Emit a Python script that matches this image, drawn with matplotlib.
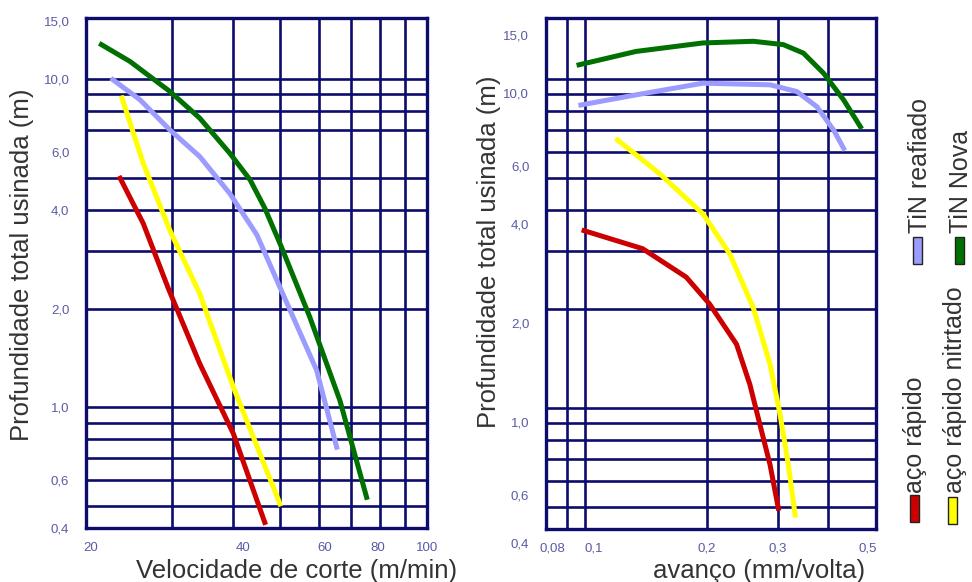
import numpy as np
import matplotlib
matplotlib.use('Agg')
import matplotlib.pyplot as plt
from matplotlib.patches import Rectangle
from matplotlib.transforms import ScaledTranslation

plt.rcParams['font.family'] = ['Liberation Sans', 'DejaVu Sans']

# Vida da ferramenta x velocidade de corte (m/min)
vel_aco = [23.5, 26.2, 29.5, 34.2, 40.1, 46.5]
prof_vel_aco = [4.98, 3.63, 2.30, 1.36, 0.832, 0.447]
vel_nitr = [23.7, 26.2, 29.7, 34.2, 40.1, 49.96]
prof_vel_nitr = [8.74, 5.53, 3.46, 2.22, 1.153, 0.509]
vel_reaf = [22.7, 25.8, 29.7, 34.2, 39.4, 44.8, 51.1, 59.4, 65.3]
prof_vel_reaf = [9.93, 8.63, 6.99, 5.80, 4.48, 3.35, 2.15, 1.297, 0.757]
vel_nova = [21.5, 24.6, 29.7, 34.2, 39.4, 43.4, 46.5, 50.2, 57.5, 66.3, 75.2]
prof_vel_nova = [12.7, 11.29, 9.15, 7.59, 5.94, 4.92, 4.04, 3.1, 1.885, 1.05, 0.533]

# Vida da ferramenta x avanco (mm/volta)
av_aco = [0.0994, 0.1388, 0.178, 0.2034, 0.2371, 0.2558, 0.2709, 0.287, 0.3009]
prof_av_aco = [3.46, 3.05, 2.50, 2.07, 1.564, 1.181, 0.892, 0.674, 0.497]
av_nitr = [0.1203, 0.1528, 0.1958, 0.2281, 0.2608, 0.287, 0.3039, 0.3186, 0.3311]
prof_av_nitr = [6.52, 5.16, 3.89, 2.94, 2.02, 1.36, 0.957, 0.674, 0.474]
av_reaf = [0.0976, 0.1337, 0.1958, 0.287, 0.3343, 0.3748, 0.4124, 0.4366]
prof_av_reaf = [8.33, 8.94, 9.70, 9.59, 9.15, 8.23, 6.99, 6.15]
av_nova = [0.0966, 0.1337, 0.1958, 0.2608, 0.3096, 0.3471, 0.3894, 0.4366, 0.4805]
prof_av_nova = [11.03, 12.11, 12.85, 13.0, 12.7, 11.97, 10.4, 8.63, 7.15]

# grade e rotulos
y_ticks = [0.43, 0.6, 1, 2, 4, 6, 10, 15]
y_labels = ['0,4', '0,6', '1,0', '2,0', '4,0', '6,0', '10,0', '15,0']
grid_y_vel = [0.5, 0.6, 0.7, 0.8, 0.9, 1, 2, 3, 4, 5, 7, 8, 9, 10]
grid_y_av = [0.5, 0.6, 0.7, 0.8, 0.9, 1, 2, 3, 4, 5, 6, 7, 8, 9, 10]
grid_x_vel = [30, 40, 50, 60, 70, 80, 90]
grid_x_av = [0.09, 0.1, 0.2, 0.3, 0.4]
x_ticks_vel = [20.4, 42, 61.7, 79.3, 100]
x_labels_vel = ['20', '40', '60', '80', '100']
x_ticks_av = [0.083, 0.105, 0.2, 0.3, 0.5]
x_labels_av = ['0,08', '0,1', '0,2', '0,3', '0,5']

navy = '#0c0c6c'
tick_color = '#5a5aa6'
text_color = '#333333'
cores = {'aco': '#cc0000', 'nitr': '#ffff00', 'reaf': '#9c9cff', 'nova': '#007000'}
linha = dict(lw=3.6, zorder=3, solid_joinstyle='round')

fig = plt.figure(figsize=(9.72, 5.82), dpi=100)
ax1 = fig.add_axes([0.0885, 0.0928, 0.3508, 0.8763])
ax2 = fig.add_axes([0.5617, 0.0911, 0.3395, 0.878])


def estilo(ax, gx, gy, xt, xl):
    ax.set_xscale('log')
    ax.set_yscale('log')
    ax.set_ylim(0.43, 15.3)
    for v in gx:
        ax.axvline(v, color=navy, lw=1.9, zorder=1)
    for v in gy:
        ax.axhline(v, color=navy, lw=1.9, zorder=1)
    for s in ax.spines.values():
        s.set_color(navy)
        s.set_linewidth(2.4)
    ax.minorticks_off()
    ax.set_yticks(y_ticks)
    ax.set_yticklabels(y_labels)
    ax.set_xticks(xt)
    ax.set_xticklabels(xl)
    ax.tick_params(length=0, colors=tick_color, labelsize=9.5)
    ax.tick_params(axis='y', pad=12)
    ax.tick_params(axis='x', pad=10)


ax1.set_xlim(20, 100)
estilo(ax1, grid_x_vel, grid_y_vel, x_ticks_vel, x_labels_vel)
ax1.plot(vel_aco, prof_vel_aco, color=cores['aco'], **linha)
ax1.plot(vel_nitr, prof_vel_nitr, color=cores['nitr'], **linha)
ax1.plot(vel_reaf, prof_vel_reaf, color=cores['reaf'], **linha)
ax1.plot(vel_nova, prof_vel_nova, color=cores['nova'], **linha)

ax2.set_xlim(0.08, 0.525)
estilo(ax2, grid_x_av, grid_y_av, x_ticks_av, x_labels_av)
ax2.plot(av_aco, prof_av_aco, color=cores['aco'], **linha)
ax2.plot(av_nitr, prof_av_nitr, color=cores['nitr'], **linha)
ax2.plot(av_reaf, prof_av_reaf, color=cores['reaf'], **linha)
ax2.plot(av_nova, prof_av_nova, color=cores['nova'], **linha)

# rotulos do grafico da direita ficam um pouco mais baixos
desloc = ScaledTranslation(0, -10 / 72, fig.dpi_scale_trans)
for lab in ax2.get_yticklabels():
    lab.set_transform(lab.get_transform() + desloc)

fig.text(22 / 972, 1 - 265 / 582, 'Profundidade total usinada (m)', rotation=90,
         ha='center', va='center', fontsize=18.5, color=text_color)
fig.text(489 / 972, 1 - 252 / 582, 'Profundidade total usinada (m)', rotation=90,
         ha='center', va='center', fontsize=18.5, color=text_color)
fig.text(297 / 972, 1 - 578 / 582, 'Velocidade de corte (m/min)',
         ha='center', va='baseline', fontsize=18.5, color=text_color)
fig.text(759 / 972, 1 - 578 / 582, 'avanço (mm/volta)',
         ha='center', va='baseline', fontsize=18.5, color=text_color)

# legenda vertical
leg = [('TiN reafiado', cores['reaf'], 920, 233, 913, 237),
       ('TiN Nova', cores['nova'], 961, 233, 955, 237),
       ('aço rápido', cores['aco'], 915, 493, 910, 495),
       ('aço rápido nitrtado', cores['nitr'], 955, 493, 948, 497)]
for nome, cor, tx, ty, px, py in leg:
    fig.text(tx / 972, 1 - ty / 582, nome, rotation=90, ha='center', va='bottom',
             fontsize=18, color=text_color)
    fig.patches.append(Rectangle((px / 972, 1 - (py + 27) / 582), 9 / 972, 27 / 582,
                                 transform=fig.transFigure, facecolor=cor,
                                 edgecolor='#222222', lw=1.0))

plt.savefig('out.png', dpi=100)
